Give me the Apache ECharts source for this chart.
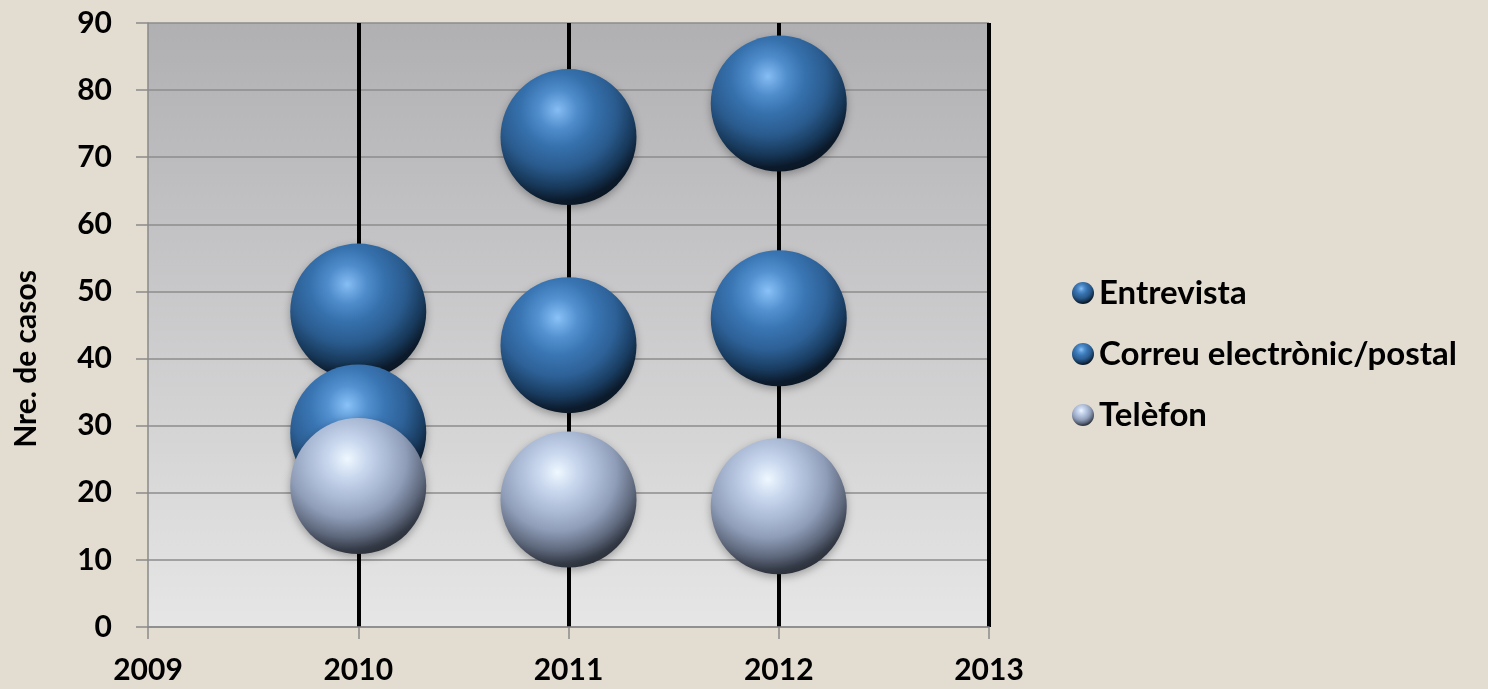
<!DOCTYPE html>
<html>
<head>
<meta charset="utf-8">
<script src="https://cdn.jsdelivr.net/npm/echarts@6/dist/echarts.min.js"></script>
<style>
html,body{margin:0;padding:0;background:#e3dcd0;}
#chart{width:1488px;height:689px;}
</style>
</head>
<body>
<div id="chart"></div>
<script>
const years = [2010, 2011, 2012];
const entrevista = [47, 73, 78];
const correu = [29, 42, 46];
const telefon = [21, 19, 18];
const seriesNames = ['Entrevista', 'Correu electrònic/postal', 'Telèfon'];
const xTicks = [2009, 2010, 2011, 2012, 2013];
const yTicks = [0, 10, 20, 30, 40, 50, 60, 70, 80, 90];

function sphere(stops) {
  return {
    type: 'radial', x: 0.42, y: 0.3, r: 0.72,
    colorStops: stops.map(s => ({offset: s[0], color: s[1]}))
  };
}
const blueDark = sphere([[0,'#86bdf4'],[0.2,'#4f8ccb'],[0.38,'#3671ad'],[0.6,'#2a5b8e'],[0.8,'#173859'],[0.93,'#0b1a2b'],[1,'#0a1522']]);
const blueMid = sphere([[0,'#8ac2f8'],[0.2,'#5391d0'],[0.38,'#3a76b4'],[0.6,'#2d6096'],[0.8,'#193c60'],[0.93,'#0c1c2e'],[1,'#0b1724']]);
const greyBlue = sphere([[0,'#eef8ff'],[0.2,'#c9d7ee'],[0.4,'#acbbd6'],[0.6,'#8f9db8'],[0.8,'#5e687c'],[0.93,'#343a46'],[1,'#2a2f38']]);

function pts(vals) { return years.map((y, i) => [y, vals[i]]); }

const chart = echarts.init(document.getElementById('chart'));
const common = {
  type: 'scatter',
  symbol: 'circle',
  symbolSize: 136,
  emphasis: {disabled: true}
};
const shadow = {shadowBlur: 8, shadowColor: 'rgba(0,0,0,0.3)', shadowOffsetY: 3, opacity: 1};
chart.setOption({
  backgroundColor: '#e3dcd0',
  textStyle: {fontFamily: 'Lato'},
  grid: {
    left: 148, right: 499, top: 23, bottom: 62,
    show: true, borderWidth: 0,
    backgroundColor: {type: 'linear', x: 0, y: 0, x2: 0, y2: 1,
      colorStops: [{offset: 0, color: '#b0b0b3'}, {offset: 1, color: '#e6e6e6'}]}
  },
  legend: {
    orient: 'vertical',
    left: 1067, top: 270,
    itemWidth: 22, itemHeight: 22, itemGap: 25,
    icon: 'circle',
    textStyle: {fontFamily: 'Lato', fontWeight: 'bold', fontSize: 33, color: '#000', lineHeight: 36},
    data: seriesNames
  },
  xAxis: {
    type: 'value', min: 2009, max: 2013, interval: 1,
    axisLine: {show: true, lineStyle: {color: '#8a8a8a', width: 1.5}},
    axisTick: {show: true, length: 12, lineStyle: {color: '#8a8a8a', width: 1.5}},
    axisLabel: {margin: 28, color: '#000', fontFamily: 'Lato', fontWeight: 'bold', fontSize: 30,
      formatter: v => String(v)},
    splitLine: {show: true, lineStyle: {color: ['rgba(0,0,0,0)', '#000', '#000', '#000', '#000'], width: 4}}
  },
  yAxis: {
    type: 'value', min: 0, max: 90, interval: 10,
    name: 'Nre. de casos',
    nameLocation: 'middle', nameGap: 107, nameRotate: 90,
    nameTextStyle: {fontFamily: 'Lato', fontWeight: 'bold', fontSize: 30, color: '#000', padding: [0, 68, 0, 0]},
    axisLine: {show: true, lineStyle: {color: '#8a8a8a', width: 1.5}},
    axisTick: {show: true, length: 12, lineStyle: {color: '#8a8a8a', width: 1.5}},
    axisLabel: {margin: 36, color: '#000', fontFamily: 'Lato', fontWeight: 'bold', fontSize: 30},
    splitLine: {show: true, lineStyle: {color: '#8c8c8c', width: 1.5}}
  },
  series: [
    Object.assign({}, common, {name: seriesNames[0], data: pts(entrevista),
      itemStyle: Object.assign({color: blueDark}, shadow)}),
    Object.assign({}, common, {name: seriesNames[1], data: pts(correu),
      itemStyle: Object.assign({color: blueMid}, shadow)}),
    Object.assign({}, common, {name: seriesNames[2], data: pts(telefon),
      itemStyle: Object.assign({color: greyBlue}, shadow)})
  ]
});
</script>
</body>
</html>
